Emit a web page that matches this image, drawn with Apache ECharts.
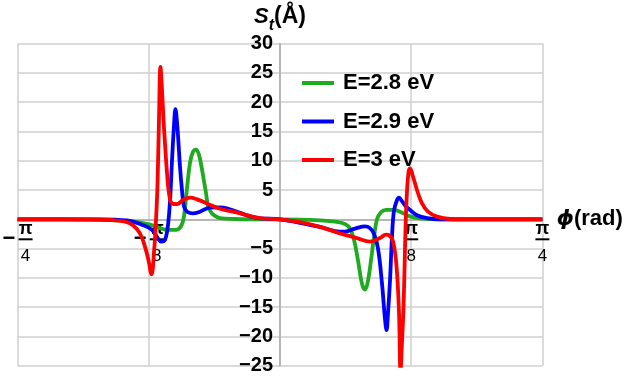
<!DOCTYPE html>
<html>
<head>
<meta charset="utf-8">
<script src="https://cdn.jsdelivr.net/npm/echarts@6/dist/echarts.min.js"></script>
<style>
  html, body { margin: 0; padding: 0; background: #fff; }
  #chart { width: 632px; height: 382px; }
</style>
</head>
<body>
<div id="chart"></div>
<script>
// phi is stored in units of pi (phi / pi), S_t in Angstrom
const seriesNames = ['E=2.8 eV', 'E=2.9 eV', 'E=3 eV'];
const seriesColors = ['#1fab1f', '#0000ff', '#ff0000'];

const phiGreen = [-0.25, -0.2096, -0.1715, -0.1429, -0.1239, -0.1143, -0.1067, -0.0991, -0.0943, -0.0915,
  -0.0886, -0.0857, -0.0829, -0.0800, -0.0772, -0.0748, -0.0724, -0.0705, -0.0686, -0.0657, -0.0629,
  -0.0572, -0.0429, -0.0191, 0, 0.0191, 0.0381, 0.0524, 0.0619, 0.0667, 0.0705, 0.0743, 0.0781, 0.0810,
  0.0838, 0.0867, 0.0896, 0.0924, 0.0962, 0.1010, 0.1077, 0.1143, 0.1239, 0.1334, 0.1524, 0.25];
const sGreen = [0, 0, -0.1, -0.3, -0.9, -1.5, -1.8, -1.8, -1.2, 0.5,
  5.3, 9.7, 11.5, 11.9, 11, 9, 6.5, 4.5, 2.3, 1.2, 0.7,
  0.2, 0.05, 0, 0, -0.05, -0.2, -0.4, -0.8, -1.6, -3.5, -7, -11, -12,
  -10.5, -7, -3, 0, 1.2, 1.6, 1.6, 1.3, 0.5, 0.15, 0, 0];

const phiBlue = [-0.25, -0.1715, -0.1458, -0.1305, -0.1220, -0.1172, -0.1134, -0.1105, -0.1086, -0.1067,
  -0.1048, -0.1029, -0.1010, -0.0996, -0.0981, -0.0967, -0.0953, -0.0934, -0.0915, -0.0886, -0.0829,
  -0.0762, -0.0667, -0.0572, -0.0476, -0.0381, -0.0286, -0.0191, 0, 0.0191, 0.0381, 0.0524, 0.0619,
  0.0715, 0.0810, 0.0857, 0.0896, 0.0934, 0.0972, 0.1000, 0.1015, 0.1029, 0.1048, 0.1067, 0.1086,
  0.1115, 0.1134, 0.1162, 0.1200, 0.1239, 0.1305, 0.1401, 0.1524, 0.25];
const sBlue = [0, 0, -0.2, -1, -1.8, -3, -3.8, -3.7, -3, -1,
  3, 10, 16, 18.8, 16.5, 13, 9, 5, 2.2, 1.3, 1,
  1.3, 2, 2.05, 1.7, 1.1, 0.5, 0.17, 0, -0.6, -1.3, -2, -2.1,
  -1.6, -1.2, -1.5, -2.5, -5, -11, -17, -18.9, -16, -10.5, -3, 1.5,
  3.3, 3.7, 3.1, 2.2, 1.6, 0.7, 0.2, 0, 0];

const phiRed = [-0.25, -0.1810, -0.1620, -0.1477, -0.1401, -0.1334, -0.1286, -0.1253, -0.1224, -0.1200,
  -0.1181, -0.1167, -0.1153, -0.1139, -0.1124, -0.1110, -0.1096, -0.1077, -0.1058, -0.1029, -0.0981,
  -0.0924, -0.0857, -0.0791, -0.0696, -0.0572, -0.0448, -0.0314, -0.0191, 0, 0.0191, 0.0381, 0.0572,
  0.0734, 0.0857, 0.0953, 0.1010, 0.1038, 0.1077, 0.1110, 0.1134, 0.1148, 0.1162, 0.1177, 0.1191,
  0.1205, 0.1224, 0.1239, 0.1267, 0.1305, 0.1353, 0.1410, 0.1496, 0.1620, 0.1810, 0.25];
const sRed = [0, 0, -0.1, -0.4, -1, -2.4, -4.7, -7, -9.4, -5.5,
  0, 6, 17, 26, 22, 17, 13, 8, 4.5, 2.7, 2.6,
  3.3, 3.7, 3.4, 2.7, 1.8, 1.3, 0.7, 0.2, 0, -0.5, -1.3, -2.4,
  -3.2, -3.8, -3.2, -2.6, -2.7, -3.8, -8, -16, -26, -21, -15, -5,
  3, 8, 8.7, 7.3, 5, 2.7, 1.3, 0.45, 0.05, 0, 0];

const phiLists = [phiGreen, phiBlue, phiRed];
const sLists = [sGreen, sBlue, sRed];

const font = '"Liberation Sans", Arial, sans-serif';
const gridColor = '#cfcfcf';

// plot box in pixels; axes are shifted onto phi = 0 / S = 0 with offset
const plot = { left: 17.6, right: 89.6, top: 43.5, bottom: 16.2 };
const plotW = 632 - plot.left - plot.right;
const plotH = 382 - plot.top - plot.bottom;
const xZeroShift = plotH * (0 - -25) / (30 - -25);
const yZeroShift = plotW * (0 - -0.25) / (0.25 - -0.25);

function zip(xs, ys) {
  return xs.map((x, i) => [x, ys[i]]);
}

function phiLabel(v) {
  const n = Math.round(v * 8);
  if (n === 0) return '';
  const d = Math.abs(n) === 1 ? 8 : 4;
  if (n < 0) return '{s| }{p|π}\n{m|−}{b| }\n{s| }{d|' + d + '}';
  return '{p|π}\n{b| }\n{d|' + d + '}';
}

const chart = echarts.init(document.getElementById('chart'));
chart.setOption({
  animation: false,
  backgroundColor: '#fff',
  textStyle: { fontFamily: font },
  grid: {
    left: plot.left, right: plot.right, top: plot.top, bottom: plot.bottom,
    containLabel: false, outerBoundsMode: 'none'
  },
  legend: {
    data: seriesNames,
    orient: 'vertical',
    left: 297,
    top: 67,
    icon: 'rect',
    itemWidth: 32,
    itemHeight: 4,
    itemGap: 16.5,
    textStyle: { fontSize: 22, fontWeight: 'bold', color: '#000', lineHeight: 22, padding: [0, 0, 0, 4] }
  },
  xAxis: {
    type: 'value',
    min: -0.25,
    max: 0.25,
    interval: 0.125,
    offset: -xZeroShift,
    name: '{p|ϕ}{a|(rad)}',
    nameLocation: 'end',
    nameGap: 14,
    nameTextStyle: {
      rich: {
        p: { fontFamily: 'DejaVu Sans', fontStyle: 'italic', fontWeight: 'bold', fontSize: 22, color: '#000' },
        a: { fontFamily: font, fontWeight: 'bold', fontSize: 22, color: '#000' }
      }
    },
    axisLine: { onZero: false, lineStyle: { color: '#aaa', width: 1.5 } },
    axisTick: { show: false },
    axisLabel: {
      margin: 3,
      formatter: phiLabel,
      rich: {
        p: { fontSize: 18, fontWeight: 'bold', color: '#000', width: 14, align: 'center', lineHeight: 14 },
        b: { width: 14, height: 2, backgroundColor: '#000', lineHeight: 6 },
        m: { fontSize: 22, fontWeight: 'bold', color: '#000', width: 16, align: 'left', lineHeight: 6 },
        s: { width: 16, lineHeight: 6 },
        d: { fontSize: 17, color: '#000', width: 14, align: 'center', lineHeight: 28 }
      }
    },
    splitLine: { show: true, lineStyle: { color: gridColor, width: 1.5 } }
  },
  yAxis: {
    type: 'value',
    min: -25,
    max: 30,
    interval: 5,
    offset: -yZeroShift,
    name: '{s|S}{t|t}{a|(Å)}',
    nameLocation: 'end',
    nameGap: 8,
    nameTextStyle: {
      rich: {
        s: { fontStyle: 'italic', fontWeight: 'bold', fontSize: 22, color: '#000', lineHeight: 24 },
        t: { fontStyle: 'italic', fontWeight: 'bold', fontSize: 16, color: '#000', verticalAlign: 'bottom', padding: [18, 0, 0, 0] },
        a: { fontWeight: 'bold', fontSize: 23, color: '#000', lineHeight: 24 }
      }
    },
    axisLine: { onZero: false, lineStyle: { color: '#aaa', width: 1.5 } },
    axisTick: { show: false },
    axisLabel: {
      margin: 7,
      fontSize: 20,
      fontWeight: 'bold',
      color: '#000',
      formatter: v => (v === 0 ? '' : v < 0 ? '−' + (-v) : String(v))
    },
    splitLine: { show: true, lineStyle: { color: gridColor, width: 1.5 } }
  },
  series: seriesNames.map((name, i) => ({
    name,
    type: 'line',
    data: zip(phiLists[i], sLists[i]),
    smooth: 0.4,
    showSymbol: false,
    clip: true,
    lineStyle: { color: seriesColors[i], width: 3.8 },
    itemStyle: { color: seriesColors[i] }
  }))
});
</script>
</body>
</html>
